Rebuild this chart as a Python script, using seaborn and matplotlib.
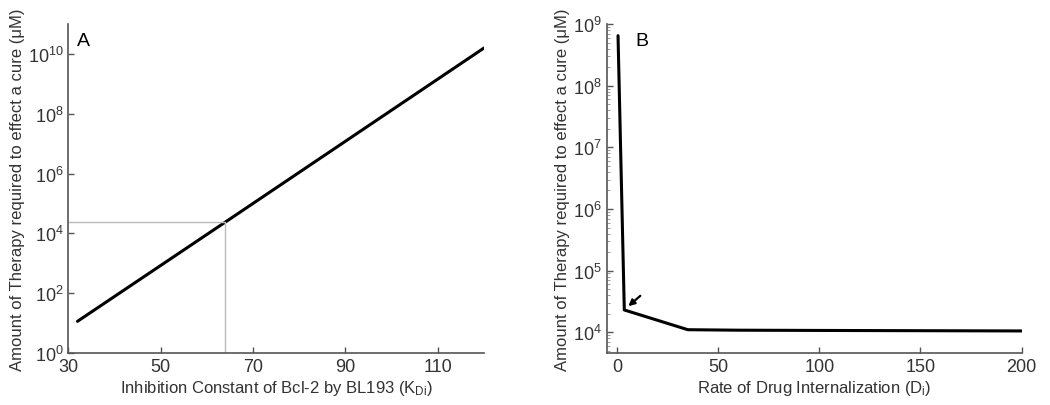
import matplotlib.pyplot as plt
import pandas as pd
import seaborn as sns

# panel A: inhibition constant vs required therapy (straight line on log axis)
kdi = [32, 64, 120]
therapy_a = [11.5, 2.4e4, 1.6e10]
ref_kdi = 64
ref_therapy = 2.4e4

# panel B: drug internalization rate vs required therapy
di = [0.5, 3.6, 35, 60, 100, 150, 200]
therapy_b = [6.5e8, 2.3e4, 1.1e4, 1.08e4, 1.07e4, 1.06e4, 1.05e4]

sns.set_style("ticks")
plt.rcParams["font.family"] = ["Liberation Sans", "DejaVu Sans"]
plt.rcParams["mathtext.default"] = "regular"
plt.rcParams["xtick.direction"] = "in"
plt.rcParams["ytick.direction"] = "in"

TEXT = "#333333"
YLABEL = "Amount of Therapy required to effect a cure (\u03bcM)"

fig = plt.figure(figsize=(10.5, 4.06), dpi=100)
ax_a = fig.add_axes([0.065, 0.128, 0.396, 0.81])
ax_b = fig.add_axes([0.578, 0.128, 0.395, 0.81])

df_a = pd.DataFrame({"kdi": kdi, "therapy": therapy_a})
df_b = pd.DataFrame({"di": di, "therapy": therapy_b})

sns.lineplot(data=df_a, x="kdi", y="therapy", ax=ax_a, color="black", lw=2.2)
ax_a.set_yscale("log")
ax_a.set_xlim(30, 120)
ax_a.set_ylim(1, 1e11)
ax_a.plot([30, ref_kdi], [ref_therapy, ref_therapy], color="#bbbbbb", lw=1)
ax_a.plot([ref_kdi, ref_kdi], [1, ref_therapy], color="#bbbbbb", lw=1)
ax_a.set_xticks([30, 50, 70, 90, 110])
ax_a.set_yticks([1e0, 1e2, 1e4, 1e6, 1e8, 1e10])
ax_a.minorticks_off()
ax_a.set_xlabel("Inhibition Constant of Bcl-2 by BL193 (K$_{Di}$)", fontsize=12, color=TEXT, labelpad=2)
ax_a.set_ylabel(YLABEL, fontsize=12, color=TEXT, labelpad=2)
ax_a.text(0.022, 0.975, "A", transform=ax_a.transAxes, fontsize=14, color="black", va="top")

sns.lineplot(data=df_b, x="di", y="therapy", ax=ax_b, color="black", lw=2.2)
ax_b.set_yscale("log")
ax_b.set_xlim(-5, 200)
ax_b.set_ylim(4.6e3, 1e9)
ax_b.set_xticks([0, 50, 100, 150, 200])
ax_b.set_yticks([1e4, 1e5, 1e6, 1e7, 1e8, 1e9])
ax_b.set_xlabel("Rate of Drug Internalization (D$_i$)", fontsize=12, color=TEXT, labelpad=2)
ax_b.set_ylabel(YLABEL, fontsize=12, color=TEXT, labelpad=2)
ax_b.text(0.068, 0.975, "B", transform=ax_b.transAxes, fontsize=14, color="black", va="top")
ax_b.annotate("", xy=(5.6, 2.65e4), xytext=(11.5, 3.9e4),
              arrowprops=dict(arrowstyle="-|>", color="black", lw=1.6,
                              mutation_scale=9, shrinkA=0, shrinkB=0))

for ax in (ax_a, ax_b):
    sns.despine(ax=ax)
    for side in ("left", "bottom"):
        ax.spines[side].set_color("#555555")
        ax.spines[side].set_linewidth(1.2)
    ax.tick_params(which="major", length=4, width=1, colors="#555555", labelcolor=TEXT, labelsize=13)
    ax.tick_params(which="minor", length=2, width=0.6, colors="#888888")

fig.savefig("out.png", dpi=100)
